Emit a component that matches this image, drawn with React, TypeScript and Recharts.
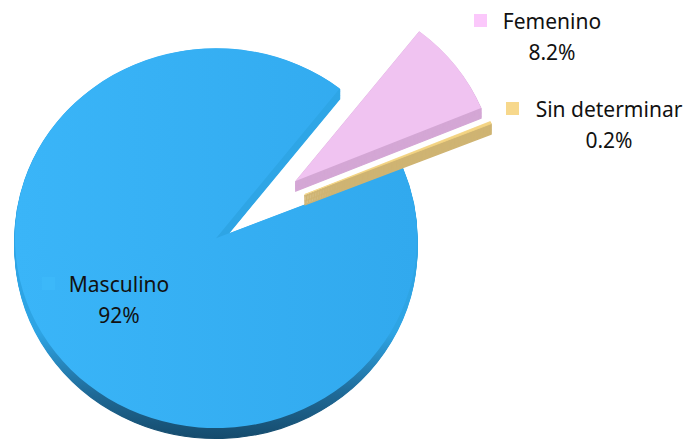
import React from 'react';
import { PieChart, Pie, Cell } from 'recharts';

// Datos (orden de dibujo: azul, luego la rebanada fina, luego la rosa)
const NAMES = ['Masculino', 'Sin determinar', 'Femenino'];
const VALUES = [92, 0.2, 8.2];
const PCT_LABELS = ['92%', '0.2%', '8.2%'];

const TOP_COLORS = ['url(#blueTop)', '#f4d484', '#f0c3f1'];
const SIDE_COLORS = ['url(#blueSide)', '#cfb473', '#d4a7d5'];
const KEY_COLORS = ['#3cb8f9', '#f7d88c', '#fbc8fb'];
const EXPLODE = [0, 100, 100];
const EXPLODE_DIR: (number | null)[] = [null, 27.5, null];

const W = 688;
const H = 443;
const TILT = 0.945; // aplastamiento vertical del "3D"
const CH = Math.round(H / TILT);
const CX = 216;
const CY = 252;
const R = 201;
const DEPTH = 11;
const START = 52;

// bloque de etiqueta: cuadrito + nombre + porcentaje
const LABEL_POS = [
  { x: 119, y: 292, sq: 42 },
  { x: 609, y: 117, sq: 506 },
  { x: 552, y: 29, sq: 474 },
];

const total = VALUES.reduce((s, v) => s + v, 0);
const mids: number[] = [];
let acc = START;
VALUES.forEach((v) => {
  const span = (v / total) * 360;
  mids.push(acc + span / 2);
  acc += span;
});

const data = NAMES.map((name, i) => ({ name, value: VALUES[i] }));

const offset = (i: number) => {
  const deg = EXPLODE_DIR[i] ?? mids[i];
  const a = (deg * Math.PI) / 180;
  return { dx: EXPLODE[i] * Math.cos(a), dy: -EXPLODE[i] * Math.sin(a) };
};

const slicePie = (i: number, lift: number, side: boolean) => {
  const { dx, dy } = offset(i);
  const color = side ? SIDE_COLORS[i] : TOP_COLORS[i];
  // los costados llevan trazo para que las capas se unan sin huecos
  const sw = side ? 1.2 : i === 1 ? 0.8 : 0;
  return (
    <Pie
      key={`p-${i}-${lift}-${side ? 's' : 't'}`}
      data={data}
      dataKey="value"
      cx={CX + dx}
      cy={CY + dy + lift}
      outerRadius={R}
      innerRadius={0}
      startAngle={START}
      endAngle={START + 360}
      stroke="none"
      isAnimationActive={false}
      legendType="none"
    >
      {data.map((_d, j) => (
        <Cell
          key={`c-${j}`}
          fill={j === i ? color : 'none'}
          stroke={j === i && sw > 0 ? color : 'none'}
          strokeWidth={j === i ? sw : 0}
          strokeLinejoin="round"
        />
      ))}
    </Pie>
  );
};

const sliceStack = (i: number) => {
  const layers = [];
  for (let d = DEPTH; d >= 1; d--) layers.push(slicePie(i, d, true));
  layers.push(slicePie(i, 0, false));
  return layers;
};

export default function App() {
  return (
    <div style={{ position: 'absolute', left: 0, top: 0, width: W, height: H, overflow: 'hidden', background: '#fff' }}>
      <div style={{ transform: `scaleY(${TILT})`, transformOrigin: '0 0' }}>
        <PieChart width={W} height={CH} margin={{ top: 0, right: 0, bottom: 0, left: 0 }}>
          <defs>
            <linearGradient id="blueTop" x1="0" y1="0" x2="1" y2="0">
              <stop offset="0%" stopColor="#3ab5f8" />
              <stop offset="100%" stopColor="#31a9ee" />
            </linearGradient>
            <linearGradient id="blueSide" gradientUnits="userSpaceOnUse" x1="0" y1="60" x2="0" y2="466">
              <stop offset="0%" stopColor="#2ea6e7" />
              <stop offset="72%" stopColor="#2ea4e4" />
              <stop offset="88%" stopColor="#1f6996" />
              <stop offset="100%" stopColor="#154a6b" />
            </linearGradient>
          </defs>
          {sliceStack(0)}
          {sliceStack(1)}
          {sliceStack(2)}
        </PieChart>
      </div>
      <svg width={W} height={H} style={{ position: 'absolute', left: 0, top: 0 }}>
        {NAMES.map((name, i) => {
          const p = LABEL_POS[i];
          return (
            <g key={`lbl-${i}`} fontFamily="'Noto Sans', sans-serif" fontSize={21} fill="#111">
              <rect x={p.sq} y={p.y - 15} width={13} height={13} fill={KEY_COLORS[i]} />
              <text x={p.x} y={p.y} textAnchor="middle">{name}</text>
              <text x={p.x} y={p.y + 31} textAnchor="middle">{PCT_LABELS[i]}</text>
            </g>
          );
        })}
      </svg>
    </div>
  );
}
